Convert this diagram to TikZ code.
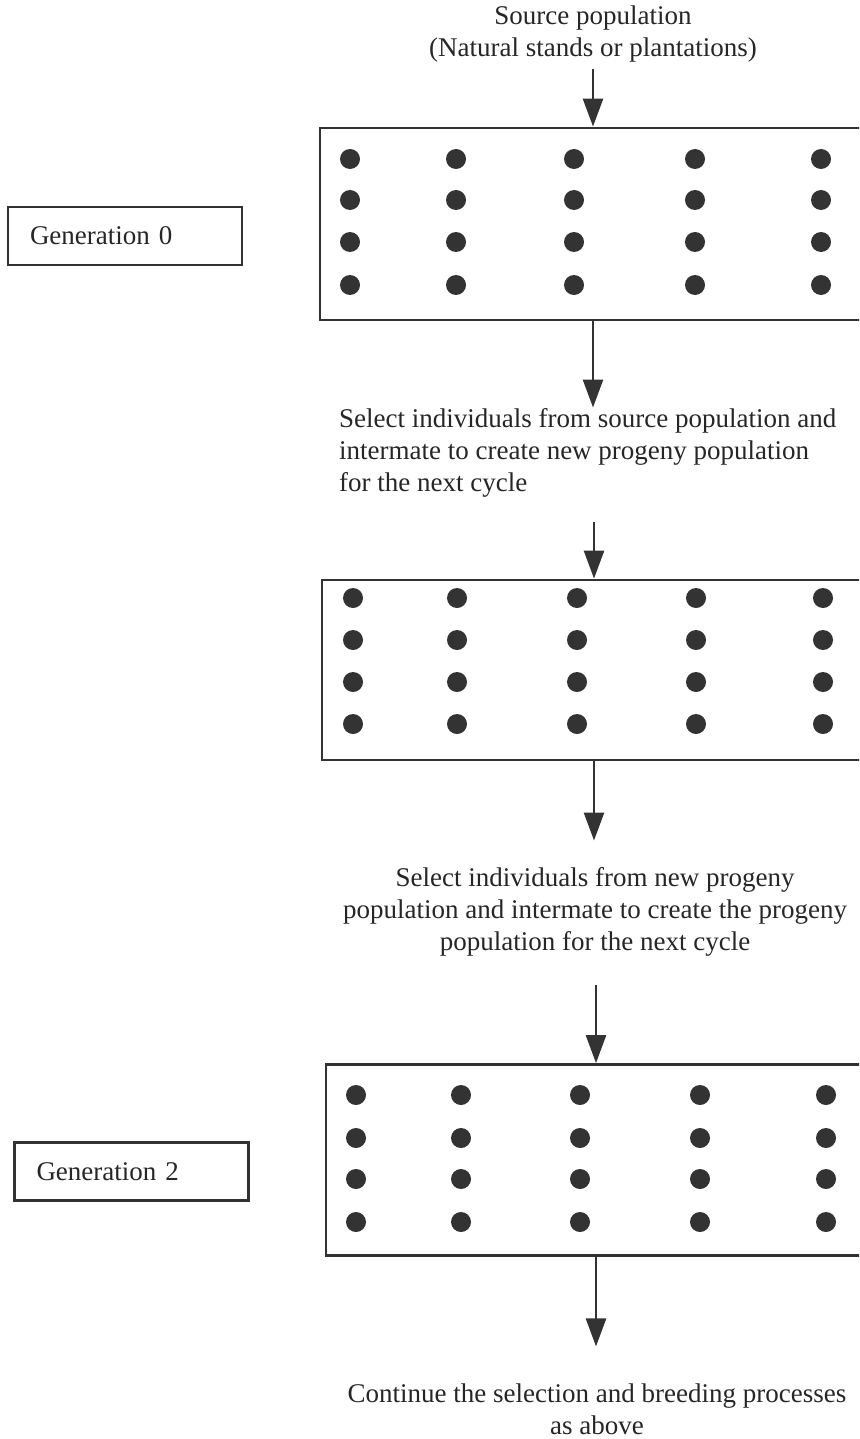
\documentclass[tikz,border=0pt]{standalone}
\usepackage{fontspec}
\setmainfont{Liberation Serif}
\usetikzlibrary{arrows.meta,positioning}
\definecolor{ink}{HTML}{333333}

\tikzset{
  flow/.style={-{Triangle[width=10pt,length=14pt]},line width=1.3pt,draw=ink},
  popbox/.style={draw=ink,line width=1.4pt,inner sep=0pt},
  genbox/.style={draw=ink,line width=1.2pt,text width=95pt,inner xsep=11pt,
    minimum height=29pt,align=left},
  plant/.style={fill=ink}
}

\begin{document}
\begin{tikzpicture}[x=0.5pt,y=-0.5pt,font=\fontsize{13.5}{16}\selectfont,text=black!85]
  \useasboundingbox (0,0) rectangle (859,1439);
  \clip (0,0) rectangle (859,1439);

    % generation 0
    \node[align=center] (src) at (593,34) {Source population\\(Natural stands or plantations)};
    \node[popbox,minimum width=273pt,minimum height=96pt] (pop0) at (593,224) {};
    \node[genbox] (gen0) at (125,236) {Generation 0};

    \foreach \x in {350,456,574,695,821}{
      \foreach \y in {159,200,242,285}{
        \fill[plant] (\x,\y) circle (5pt);
      }
    }

    \node[anchor=west,align=left] (sel1) at (332,453)
      {Select individuals from source population and\\intermate to create new progeny population\\for the next cycle};

    % generation 1
    \node[popbox,minimum width=272pt,minimum height=90pt] (pop1) at (594,670) {};

    \foreach \x in {353,457,577,696,823}{
      \foreach \y in {598,640,682,724}{
        \fill[plant] (\x,\y) circle (5pt);
      }
    }

    \node[align=center] (sel2) at (595,912)
      {Select individuals from new progeny\\population and intermate to create the progeny\\population for the next cycle};

    % generation 2
    \node[popbox,minimum width=270pt,minimum height=95.5pt] (pop2) at (596,1160) {};
    \node[genbox] (gen2) at (131.5,1171.5) {Generation 2};

    \foreach \x in {356,461,580,700,826}{
      \foreach \y in {1095,1138,1179,1222}{
        \fill[plant] (\x,\y) circle (5pt);
      }
    }

    \node[align=center] (cont) at (597,1409)
      {Continue the selection and breeding processes\\as above};

    \draw[flow] (src) -- (pop0);
    \draw[flow,shorten >=-3pt] (pop0) -- (pop0 |- sel1.north);
    \draw[flow,shorten <=9pt] (sel1.south -| pop1.north) -- (pop1);
    \draw[flow,shorten >=10pt] (pop1) -- (pop1.south |- sel2.north);
    \draw[flow,shorten <=11pt] (sel2.south -| pop2.north) -- (pop2);
    \draw[flow,shorten >=15pt] (pop2) -- (pop2.south |- cont.north);

  \end{tikzpicture}
\end{document}
